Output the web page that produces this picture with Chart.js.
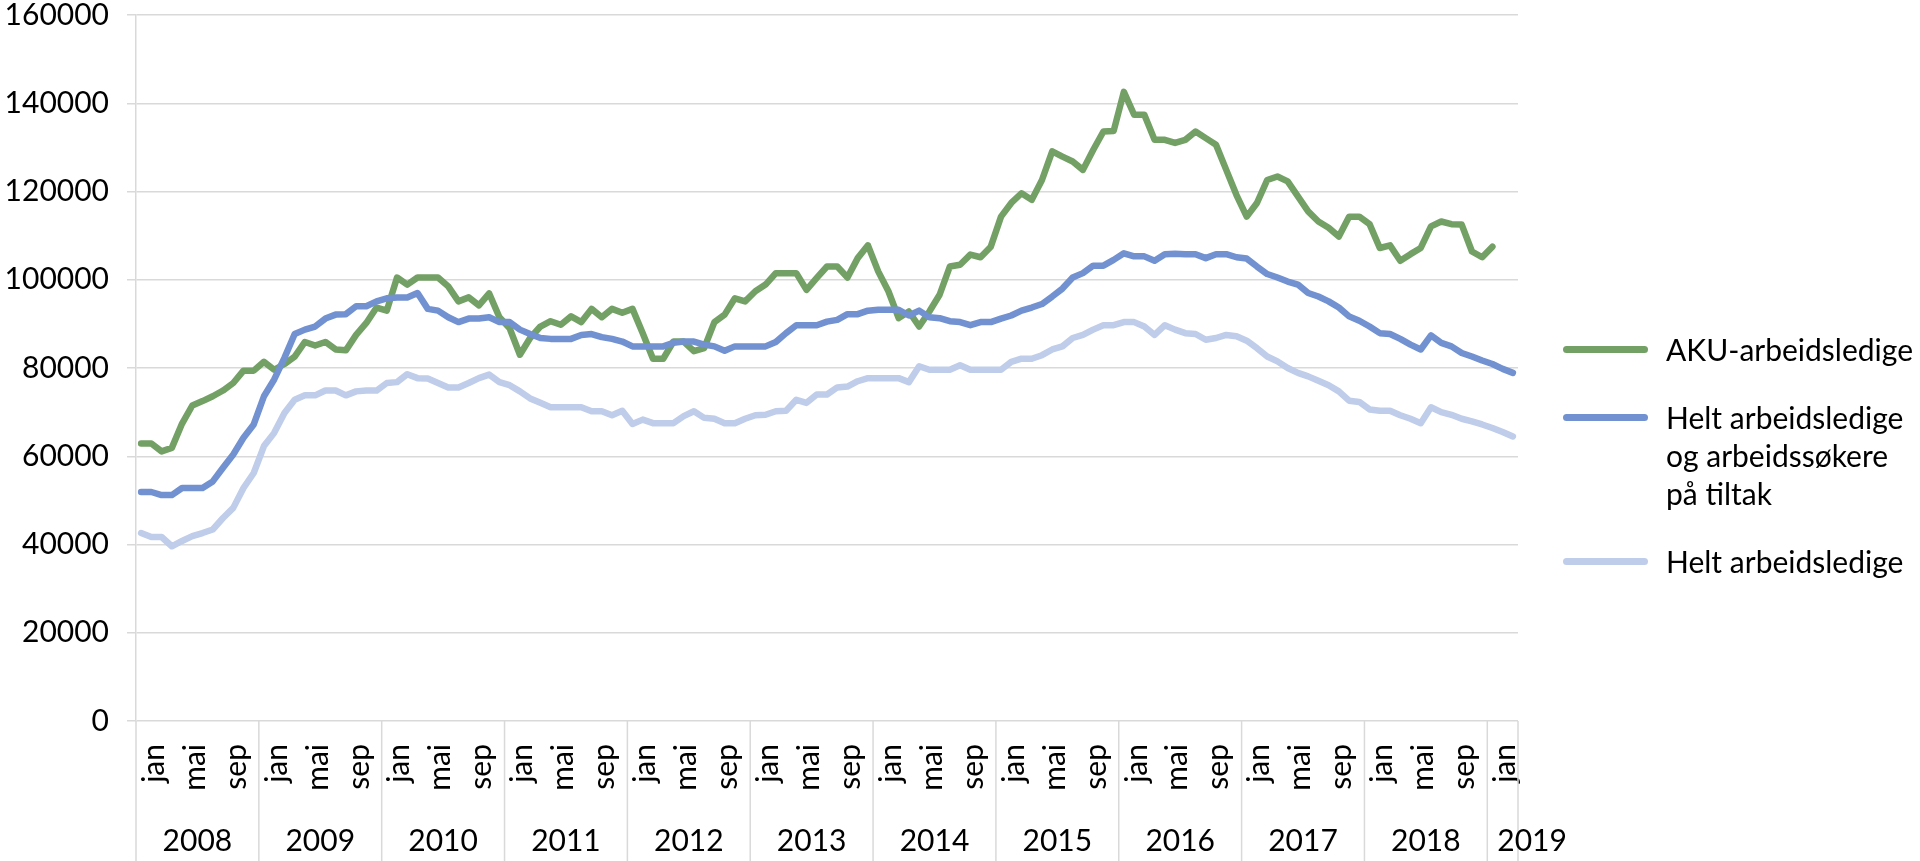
<!DOCTYPE html>
<html>
<head>
<meta charset="utf-8">
<script src="https://cdn.jsdelivr.net/npm/chart.js@4.4.1/dist/chart.umd.min.js"></script>
<style>
html,body{margin:0;padding:0;background:#fff;width:1920px;height:861px;overflow:hidden;font-family:Lato,sans-serif;}
#wrap{position:absolute;left:0;top:-18px;width:1920px;height:879px;}
#legend{position:absolute;left:1563px;top:330px;}
.item{display:flex;align-items:flex-start;margin-bottom:30px;}
.swatch{width:85px;height:7px;border-radius:3.5px;margin-top:15.5px;flex:none;}
.txt{margin-left:18px;font-size:30px;line-height:38px;white-space:pre-line;color:#000;}
</style>
</head>
<body>
<div id="wrap"><canvas id="c" width="1920" height="879"></canvas></div>
<div id="legend"></div>
<script>
const years = [2008,2009,2010,2011,2012,2013,2014,2015,2016,2017,2018,2019];
const months = ['jan','feb','mar','apr','mai','jun','jul','aug','sep','okt','nov','des'];
const shownMonths = ['jan','mai','sep'];
const lastYearMonths = 3;
const yTicks = [0,20000,40000,60000,80000,100000,120000,140000,160000];

const seriesNames = ['AKU-arbeidsledige','Helt arbeidsledige\nog arbeidssøkere\npå tiltak','Helt arbeidsledige'];
const seriesColors = ['#73a064','#7191d1','#bfcdea'];

const aku = [
62900,62900,61100,61900,67400,71500,72500,73600,74900,76600,79400,79400,
81400,79600,80900,82600,85900,85100,85900,84200,84000,87500,90200,93700,
93000,100500,98900,100500,100500,100500,98500,95100,96000,94200,96900,91500,
89000,83000,86800,89400,90600,89800,91700,90400,93400,91500,93400,92500,
93400,87900,82100,82100,86000,86000,83800,84500,90400,92100,95800,95100,
97400,98900,101500,101500,101500,97700,100400,103000,103000,100500,104900,107800,
101900,97400,91300,92800,89400,92800,96600,103000,103400,105700,105100,107500,
114300,117400,119600,118100,122600,129100,127900,126800,124900,129400,133600,133700,
142600,137400,137400,131700,131700,131000,131700,133600,132100,130600,124900,119200,
114300,117400,122600,123400,122300,118900,115500,113200,111800,109800,114300,114300,
112600,107200,107800,104300,105800,107200,112100,113200,112600,112500,106400,105100,
107500
];
const heltOgTiltak = [
51900,51900,51200,51200,52800,52800,52800,54300,57400,60400,64200,67200,
73600,77400,82300,87700,88700,89400,91200,92100,92200,94000,94000,95100,
95800,96000,96000,97000,93400,93000,91500,90400,91200,91200,91500,90400,
90400,88700,87700,86800,86600,86600,86600,87500,87700,87000,86600,86000,
84900,84900,84900,84900,85700,86000,86000,85300,84900,83900,84900,84900,
84900,84900,85900,87900,89700,89700,89700,90500,90900,92200,92200,93000,
93200,93200,93200,91900,93000,91500,91300,90600,90400,89700,90400,90400,
91200,91900,93000,93700,94500,96200,98000,100500,101500,103200,103200,104500,
106000,105300,105300,104300,105800,105900,105800,105800,104900,105800,105800,105100,
104800,103000,101300,100500,99600,98900,97000,96200,95100,93700,91700,90700,
89400,87900,87700,86600,85300,84200,87400,85700,84900,83400,82600,81700,
80900,79800,78900
];
const helt = [
42600,41700,41700,39600,40800,41900,42600,43400,46000,48300,52800,56200,
62300,65300,69800,72800,73800,73800,74900,74900,73800,74700,74900,74900,
76600,76800,78600,77700,77600,76600,75600,75600,76600,77700,78500,76800,
76100,74700,73100,72100,71100,71100,71100,71100,70200,70200,69300,70300,
67300,68300,67500,67500,67500,69100,70200,68700,68500,67500,67500,68500,
69300,69400,70200,70300,72800,72100,74000,74000,75600,75800,77000,77700,
77700,77700,77700,76800,80400,79600,79600,79600,80600,79600,79600,79600,
79600,81400,82100,82100,82900,84200,84900,86800,87500,88700,89700,89700,
90400,90400,89400,87500,89700,88700,87900,87700,86400,86800,87500,87200,
86200,84500,82600,81500,80000,78900,78100,77100,76100,74700,72600,72300,
70600,70300,70300,69300,68500,67500,71100,70000,69400,68500,67900,67200,
66400,65500,64500
];

// categories: month + year
const categories = [];
const catYear = [];
years.forEach((y, yi) => {
  const n = (yi === years.length - 1) ? lastYearMonths : 12;
  for (let m = 0; m < n; m++) { categories.push(months[m] + ' ' + y); catYear.push(y); }
});

const GRID = '#d9d9d9';
const FONT = 'Lato';

const yearAxisPlugin = {
  id: 'yearAxis',
  afterDraw(chart) {
    const ctx = chart.ctx;
    const xs = chart.scales.x;
    const area = chart.chartArea;
    const half = (xs.getPixelForValue(1) - xs.getPixelForValue(0)) / 2;
    const yLabel = chart.height - 20;
    ctx.save();
    ctx.strokeStyle = GRID;
    ctx.lineWidth = 1.5;
    ctx.fillStyle = '#000';
    ctx.font = '30px ' + FONT;
    ctx.textBaseline = 'middle';
    let idx = 0;
    years.forEach((y, yi) => {
      const n = catYear.filter(v => v === y).length;
      const left = xs.getPixelForValue(idx) - half;
      const right = xs.getPixelForValue(idx + n - 1) + half;
      ctx.beginPath();
      ctx.moveTo(left, area.bottom);
      ctx.lineTo(left, chart.height);
      ctx.stroke();
      if (yi === years.length - 1) {
        ctx.beginPath();
        ctx.moveTo(right, area.bottom);
        ctx.lineTo(right, chart.height);
        ctx.stroke();
      }
      const label = String(y);
      const w = ctx.measureText(label).width;
      if (w > right - left) {
        ctx.textAlign = 'left';
        ctx.fillText(label, left + 10, yLabel);
      } else {
        ctx.textAlign = 'center';
        ctx.fillText(label, (left + right) / 2, yLabel);
      }
      idx += n;
    });
    ctx.restore();
  }
};

function mkDs(i, data, order) {
  return {
    label: seriesNames[i].replace(/\n/g, ' '),
    data: data,
    borderColor: seriesColors[i],
    backgroundColor: seriesColors[i],
    borderWidth: 6.5,
    pointRadius: 0,
    tension: 0,
    fill: false,
    borderCapStyle: 'round',
    borderJoinStyle: 'round',
    order: order
  };
}

function build() {
  Chart.defaults.font.family = FONT;
  Chart.defaults.font.size = 30;
  Chart.defaults.color = '#000';
  new Chart(document.getElementById('c'), {
    type: 'line',
    data: {
      labels: categories,
      datasets: [mkDs(0, aku, 3), mkDs(1, heltOgTiltak, 2), mkDs(2, helt, 1)]
    },
    options: {
      responsive: false,
      animation: false,
      devicePixelRatio: 1,
      layout: { padding: { top: 0, right: 402, left: 0, bottom: 0 } },
      plugins: { legend: { display: false }, tooltip: { enabled: false } },
      scales: {
        x: {
          type: 'category',
          offset: true,
          grid: { display: false },
          border: { display: false },
          afterFit: s => { s.height = 140; },
          ticks: {
            autoSkip: false,
            maxRotation: 90,
            minRotation: 90,
            padding: 15,
            labelOffset: 13,
            font: { size: 30, family: FONT },
            callback: function(v, i) {
              const m = categories[i].split(' ')[0];
              return shownMonths.includes(m) ? m : '';
            }
          }
        },
        y: {
          min: yTicks[0],
          max: yTicks[yTicks.length - 1],
          afterFit: s => { s.width = 136; },
          afterBuildTicks: s => { s.ticks = yTicks.map(v => ({ value: v })); },
          grid: { color: GRID, lineWidth: 1.5, tickLength: 9 },
          border: { color: GRID, width: 1.5 },
          ticks: {
            padding: 18,
            font: { size: 30, family: FONT, lineHeight: 1 },
            callback: v => String(v)
          }
        }
      }
    },
    plugins: [yearAxisPlugin]
  });

  const lg = document.getElementById('legend');
  seriesNames.forEach((name, i) => {
    const it = document.createElement('div');
    it.className = 'item';
    const sw = document.createElement('div');
    sw.className = 'swatch';
    sw.style.background = seriesColors[i];
    const tx = document.createElement('div');
    tx.className = 'txt';
    tx.textContent = name;
    it.appendChild(sw); it.appendChild(tx);
    lg.appendChild(it);
  });
}

if (document.fonts && document.fonts.load) {
  document.fonts.load('30px Lato').then(build, build);
} else { build(); }
</script>
</body>
</html>
